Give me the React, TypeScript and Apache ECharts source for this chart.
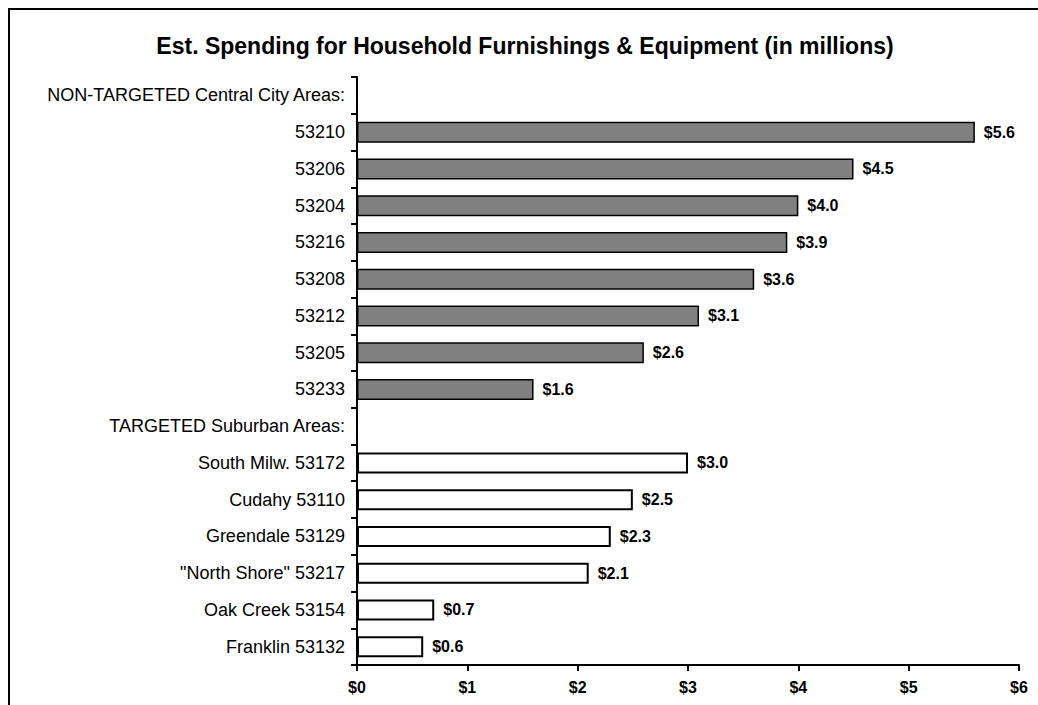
import React, { useEffect, useRef } from "react";
import * as echarts from "echarts";

const titleText = "Est. Spending for Household Furnishings & Equipment (in millions)";

const categories = [
  "NON-TARGETED Central City Areas:",
  "53210",
  "53206",
  "53204",
  "53216",
  "53208",
  "53212",
  "53205",
  "53233",
  "TARGETED Suburban Areas:",
  "South Milw. 53172",
  "Cudahy 53110",
  "Greendale 53129",
  "\"North Shore\" 53217",
  "Oak Creek 53154",
  "Franklin 53132",
];

const nonTargetedValues = [null, 5.6, 4.5, 4.0, 3.9, 3.6, 3.1, 2.6, 1.6, null, null, null, null, null, null, null];
const targetedValues = [null, null, null, null, null, null, null, null, null, null, 3.0, 2.5, 2.3, 2.1, 0.7, 0.6];

const xTickLabels = ["$0", "$1", "$2", "$3", "$4", "$5", "$6"];

const FONT = "'Liberation Sans', Arial, sans-serif";

export default function App() {
  const ref = useRef<HTMLDivElement>(null);

  useEffect(() => {
    document.documentElement.style.overflow = "hidden";
    document.documentElement.style.background = "#fff";
    document.body.style.margin = "0";
    document.body.style.overflow = "hidden";
    document.body.style.background = "#fff";
    if (!ref.current) return;
    const chart = echarts.init(ref.current, undefined, { renderer: "svg" });
    const labelCfg = {
      show: true,
      position: "right" as const,
      distance: 9,
      color: "#000",
      fontFamily: FONT,
      fontSize: 16,
      fontWeight: "bold" as const,
      formatter: (p: any) => "$" + Number(p.value).toFixed(1),
    };
    chart.setOption({
      animation: false,
      backgroundColor: "#fff",
      title: {
        text: titleText,
        left: 510,
        textAlign: "center",
        top: 19,
        textStyle: {
          fontFamily: FONT,
          fontSize: 23,
          fontWeight: "bold",
          color: "#000",
        },
      },
      grid: {
        left: 347,
        right: 19,
        top: 67,
        bottom: 40,
        containLabel: false,
      },
      xAxis: {
        type: "value",
        min: 0,
        max: 6,
        interval: 1,
        splitLine: { show: false },
        axisLine: { show: true, lineStyle: { color: "#000", width: 2 } },
        axisTick: { show: true, length: 6, lineStyle: { color: "#000", width: 2 } },
        axisLabel: {
          margin: 14,
          color: "#000",
          fontFamily: FONT,
          fontSize: 16,
          fontWeight: "bold",
          formatter: (v: number) => xTickLabels[Math.round(v)] ?? "",
        },
      },
      yAxis: {
        type: "category",
        data: categories,
        inverse: true,
        axisLine: { show: true, lineStyle: { color: "#000", width: 2 } },
        axisTick: { show: true, length: 6, lineStyle: { color: "#000", width: 2 } },
        axisLabel: {
          margin: 12,
          color: "#000",
          fontFamily: FONT,
          fontSize: 18,
          interval: 0,
        },
      },
      series: [
        {
          name: "Non-targeted",
          type: "bar",
          data: nonTargetedValues,
          barWidth: 21,
          barGap: "-100%",
          itemStyle: { color: "#808080", borderColor: "#000", borderWidth: 1.5 },
          label: labelCfg,
        },
        {
          name: "Targeted",
          type: "bar",
          data: targetedValues,
          barWidth: 21,
          barGap: "-100%",
          itemStyle: { color: "#fff", borderColor: "#000", borderWidth: 2 },
          label: labelCfg,
        },
      ],
    });
    return () => chart.dispose();
  }, []);

  return (
    <div style={{ width: 1038, height: 705, position: "relative", overflow: "hidden", background: "#fff" }}>
      <div
        style={{
          position: "absolute",
          left: 8,
          top: 8,
          width: 1030,
          height: 697,
          boxSizing: "border-box",
          borderTop: "2px solid #000",
          borderLeft: "2px solid #000",
          background: "#fff",
        }}
      >
        <div ref={ref} style={{ width: 1028, height: 695 }} />
      </div>
    </div>
  );
}
